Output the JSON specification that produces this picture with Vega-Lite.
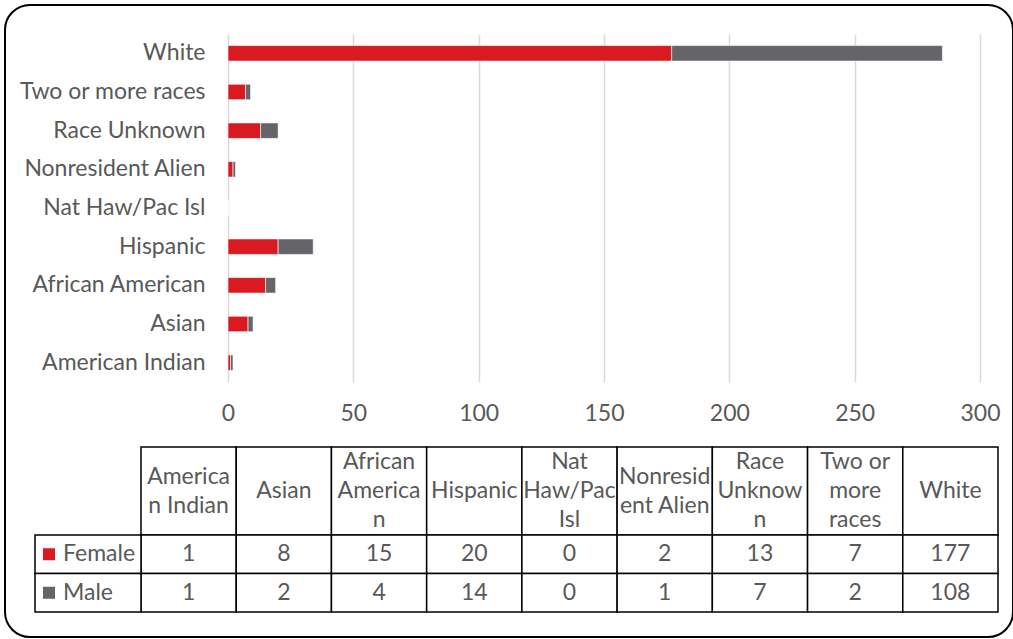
{
  "$schema": "https://vega.github.io/schema/vega-lite/v6.json",
  "width": 1008,
  "height": 632,
  "autosize": "none",
  "padding": {"left": 5, "top": 5, "right": 0, "bottom": 2},
  "background": "white",
  "view": {"stroke": "#000000", "strokeWidth": 2, "cornerRadius": 25, "fill": "white"},
  "config": {
    "font": "Lato",
    "text": {"font": "Lato", "fontSize": 23, "color": "#595959"}
  },
  "datasets": {
    "main": [
      {"race": "American Indian", "sex": "Female", "value": 1},
      {"race": "American Indian", "sex": "Male", "value": 1},
      {"race": "Asian", "sex": "Female", "value": 8},
      {"race": "Asian", "sex": "Male", "value": 2},
      {"race": "African American", "sex": "Female", "value": 15},
      {"race": "African American", "sex": "Male", "value": 4},
      {"race": "Hispanic", "sex": "Female", "value": 20},
      {"race": "Hispanic", "sex": "Male", "value": 14},
      {"race": "Nat Haw/Pac Isl", "sex": "Female", "value": 0},
      {"race": "Nat Haw/Pac Isl", "sex": "Male", "value": 0},
      {"race": "Nonresident Alien", "sex": "Female", "value": 2},
      {"race": "Nonresident Alien", "sex": "Male", "value": 1},
      {"race": "Race Unknown", "sex": "Female", "value": 13},
      {"race": "Race Unknown", "sex": "Male", "value": 7},
      {"race": "Two or more races", "sex": "Female", "value": 7},
      {"race": "Two or more races", "sex": "Male", "value": 2},
      {"race": "White", "sex": "Female", "value": 177},
      {"race": "White", "sex": "Male", "value": 108}
    ],
    "header": [
      {"race": "American Indian", "label": "America\nn Indian"},
      {"race": "Asian", "label": "Asian"},
      {"race": "African American", "label": "African\nAmerica\nn"},
      {"race": "Hispanic", "label": "Hispanic"},
      {"race": "Nat Haw/Pac Isl", "label": "Nat\nHaw/Pac\nIsl"},
      {"race": "Nonresident Alien", "label": "Nonresid\nent Alien"},
      {"race": "Race Unknown", "label": "Race\nUnknow\nn"},
      {"race": "Two or more races", "label": "Two or\nmore\nraces"},
      {"race": "White", "label": "White"}
    ],
    "legend": [
      {"sex": "Female"},
      {"sex": "Male"}
    ]
  },
  "resolve": {"scale": {"x": "independent", "y": "independent"}},
  "layer": [
    {
      "data": {"name": "main"},
      "mark": {"type": "bar", "stroke": "white", "strokeWidth": 0.6},
      "encoding": {
        "x": {
          "field": "value", "type": "quantitative", "stack": "zero",
          "scale": {"domain": [0, 300], "range": [223, 975], "nice": false},
          "axis": {
            "orient": "top", "offset": -377, "values": [0, 50, 100, 150, 200, 250, 300],
            "grid": true, "gridColor": "#d9d9d9", "gridWidth": 1.5,
            "domain": false, "ticks": false, "labelPadding": -31, "labelBaseline": "middle",
            "labelFlush": false, "labelOverlap": false, "labelAlign": "center",
            "labelFont": "Lato", "labelFontSize": 23, "labelColor": "#595959", "title": null
          }
        },
        "y": {
          "field": "race", "type": "nominal",
          "scale": {
            "domain": ["White", "Two or more races", "Race Unknown", "Nonresident Alien", "Nat Haw/Pac Isl", "Hispanic", "African American", "Asian", "American Indian"],
            "range": [29, 377], "paddingInner": 0.6, "paddingOuter": 0.3
          },
          "axis": {
            "orient": "left", "offset": -223, "domain": false, "ticks": false, "grid": false,
            "labelPadding": 23, "labelLimit": 400, "labelFont": "Lato", "labelFontSize": 23, "labelColor": "#595959", "title": null
          }
        },
        "color": {
          "field": "sex", "type": "nominal",
          "scale": {"domain": ["Female", "Male"], "range": ["#D91A21", "#646469"]},
          "legend": null
        },
        "order": {"field": "sex", "sort": "ascending"}
      }
    },
    {
      "data": {"name": "header"},
      "mark": {"type": "rect", "fill": "white", "stroke": "black", "strokeWidth": 1.5},
      "encoding": {
        "x": {"field": "race", "type": "nominal", "scale": {"domain": ["American Indian", "Asian", "African American", "Hispanic", "Nat Haw/Pac Isl", "Nonresident Alien", "Race Unknown", "Two or more races", "White"], "range": [136, 993], "paddingInner": 0, "paddingOuter": 0}, "axis": null},
        "y": {"datum": "h", "type": "nominal", "scale": {"range": [442, 530], "paddingInner": 0, "paddingOuter": 0}, "axis": null}
      }
    },
    {
      "data": {"name": "header"},
      "transform": [{"filter": "length(split(datum.label, '\\n')) == 1"}],
      "mark": {"type": "text", "lineBreak": "\n", "lineHeight": 29, "align": "center", "baseline": "middle", "font": "Lato", "fontSize": 23, "color": "#595959"},
      "encoding": {
        "x": {"field": "race", "type": "nominal", "scale": {"domain": ["American Indian", "Asian", "African American", "Hispanic", "Nat Haw/Pac Isl", "Nonresident Alien", "Race Unknown", "Two or more races", "White"], "range": [136, 993], "paddingInner": 0, "paddingOuter": 0}, "axis": null},
        "y": {"datum": "h", "type": "nominal", "scale": {"range": [442, 530], "paddingInner": 0, "paddingOuter": 0}, "axis": null},
        "text": {"field": "label", "type": "nominal"}
      }
    },
    {
      "data": {"name": "header"},
      "transform": [{"filter": "length(split(datum.label, '\\n')) == 2"}],
      "mark": {"type": "text", "lineBreak": "\n", "lineHeight": 29, "align": "center", "baseline": "middle", "dy": -14.5, "font": "Lato", "fontSize": 23, "color": "#595959"},
      "encoding": {
        "x": {"field": "race", "type": "nominal", "scale": {"domain": ["American Indian", "Asian", "African American", "Hispanic", "Nat Haw/Pac Isl", "Nonresident Alien", "Race Unknown", "Two or more races", "White"], "range": [136, 993], "paddingInner": 0, "paddingOuter": 0}, "axis": null},
        "y": {"datum": "h", "type": "nominal", "scale": {"range": [442, 530], "paddingInner": 0, "paddingOuter": 0}, "axis": null},
        "text": {"field": "label", "type": "nominal"}
      }
    },
    {
      "data": {"name": "header"},
      "transform": [{"filter": "length(split(datum.label, '\\n')) == 3"}],
      "mark": {"type": "text", "lineBreak": "\n", "lineHeight": 29, "align": "center", "baseline": "middle", "dy": -29, "font": "Lato", "fontSize": 23, "color": "#595959"},
      "encoding": {
        "x": {"field": "race", "type": "nominal", "scale": {"domain": ["American Indian", "Asian", "African American", "Hispanic", "Nat Haw/Pac Isl", "Nonresident Alien", "Race Unknown", "Two or more races", "White"], "range": [136, 993], "paddingInner": 0, "paddingOuter": 0}, "axis": null},
        "y": {"datum": "h", "type": "nominal", "scale": {"range": [442, 530], "paddingInner": 0, "paddingOuter": 0}, "axis": null},
        "text": {"field": "label", "type": "nominal"}
      }
    },
    {
      "data": {"name": "main"},
      "mark": {"type": "rect", "fill": "white", "stroke": "black", "strokeWidth": 1.5},
      "encoding": {
        "x": {"field": "race", "type": "nominal", "scale": {"domain": ["American Indian", "Asian", "African American", "Hispanic", "Nat Haw/Pac Isl", "Nonresident Alien", "Race Unknown", "Two or more races", "White"], "range": [136, 993], "paddingInner": 0, "paddingOuter": 0}, "axis": null},
        "y": {"field": "sex", "type": "nominal", "scale": {"domain": ["Female", "Male"], "range": [530, 607], "paddingInner": 0, "paddingOuter": 0}, "axis": null}
      }
    },
    {
      "data": {"name": "main"},
      "mark": {"type": "text", "align": "center", "baseline": "middle", "font": "Lato", "fontSize": 23, "color": "#595959"},
      "encoding": {
        "x": {"field": "race", "type": "nominal", "scale": {"domain": ["American Indian", "Asian", "African American", "Hispanic", "Nat Haw/Pac Isl", "Nonresident Alien", "Race Unknown", "Two or more races", "White"], "range": [136, 993], "paddingInner": 0, "paddingOuter": 0}, "axis": null},
        "y": {"field": "sex", "type": "nominal", "scale": {"domain": ["Female", "Male"], "range": [530, 607], "paddingInner": 0, "paddingOuter": 0}, "axis": null},
        "text": {"field": "value", "type": "quantitative"}
      }
    },
    {
      "data": {"name": "legend"},
      "mark": {"type": "rect", "fill": "white", "stroke": "black", "strokeWidth": 1.5},
      "encoding": {
        "x": {"datum": "lbl", "type": "nominal", "scale": {"range": [30, 136], "paddingInner": 0, "paddingOuter": 0}, "axis": null},
        "y": {"field": "sex", "type": "nominal", "scale": {"domain": ["Female", "Male"], "range": [530, 607], "paddingInner": 0, "paddingOuter": 0}, "axis": null}
      }
    },
    {
      "data": {"name": "legend"},
      "mark": {"type": "point", "shape": "square", "filled": true, "size": 144, "opacity": 1, "xOffset": -39},
      "encoding": {
        "x": {"datum": "lbl", "type": "nominal", "scale": {"range": [30, 136], "paddingInner": 0, "paddingOuter": 0}, "axis": null},
        "y": {"field": "sex", "type": "nominal", "scale": {"domain": ["Female", "Male"], "range": [530, 607], "paddingInner": 0, "paddingOuter": 0}, "axis": null},
        "color": {"field": "sex", "type": "nominal", "scale": {"domain": ["Female", "Male"], "range": ["#D91A21", "#646469"]}, "legend": null}
      }
    },
    {
      "data": {"name": "legend"},
      "mark": {"type": "text", "align": "left", "baseline": "middle", "dx": -25, "font": "Lato", "fontSize": 23, "color": "#595959"},
      "encoding": {
        "x": {"datum": "lbl", "type": "nominal", "scale": {"range": [30, 136], "paddingInner": 0, "paddingOuter": 0}, "axis": null},
        "y": {"field": "sex", "type": "nominal", "scale": {"domain": ["Female", "Male"], "range": [530, 607], "paddingInner": 0, "paddingOuter": 0}, "axis": null},
        "text": {"field": "sex", "type": "nominal"}
      }
    }
  ]
}
